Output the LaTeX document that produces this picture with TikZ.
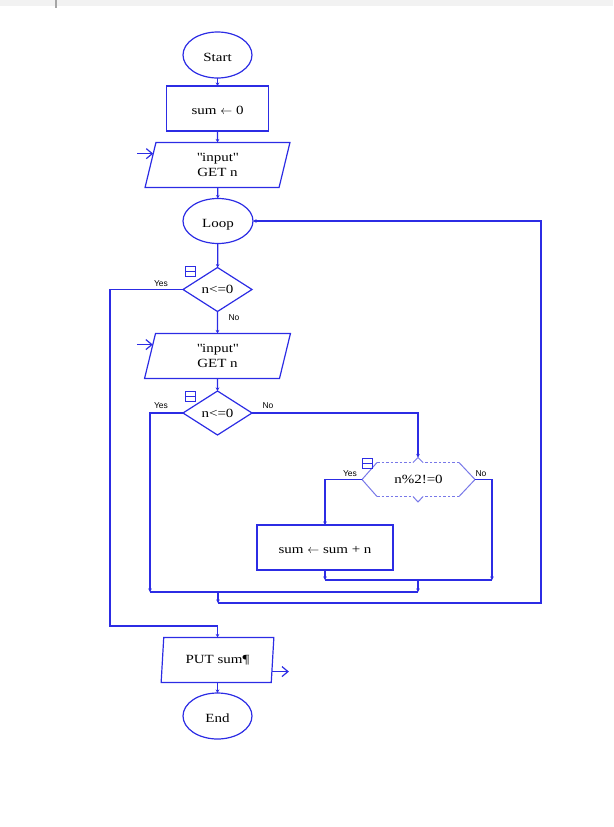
\documentclass[tikz,border=0pt]{standalone}
\usepackage{fontspec}
\setmainfont[FakeStretch=1.2]{Liberation Serif}
\newfontfamily\lblfont{Liberation Sans}
\definecolor{flowblue}{RGB}{44, 44, 228}
\definecolor{softblue}{RGB}{120, 120, 232}
\usepackage{tikz}
\usetikzlibrary{shapes.geometric, arrows.meta, positioning, calc}

\begin{document}
\begin{tikzpicture}[x=1pt, y=-1pt,
  line width=1.2pt,
  txt/.style={font=\fontsize{12.5}{14.5}\selectfont, text=black, inner sep=0pt, outer sep=0pt},
  term/.style={txt, draw=flowblue, ellipse, minimum width=69, minimum height=46, text height=12pt, text depth=0pt},
  procbox/.style={txt, draw=flowblue, rectangle, minimum width=102, minimum height=45, text height=12pt, text depth=0pt},
  iobox/.style={txt, draw=flowblue, trapezium, trapezium left angle=81, trapezium right angle=99,
    trapezium stretches=true, align=center, minimum height=45},
  decision/.style={txt, draw=flowblue, diamond, minimum width=69, minimum height=44},
  lbl/.style={font=\lblfont\fontsize{8.5}{9}\selectfont, text=black, inner sep=0pt},
  foldicon/.style={draw=flowblue, line width=1pt, minimum size=10, inner sep=0pt,
    path picture={\draw[flowblue, line width=1pt] (path picture bounding box.west) -- (path picture bounding box.east);}},
  flow/.style={draw=flowblue, -{Stealth[length=3.5pt, width=3.5pt]}},
  wire/.style={draw=flowblue},
  ioarrow/.style={draw=flowblue, -{Straight Barb[length=6pt, width=10pt]}}]

  \useasboundingbox (0,0) rectangle (613,827);
  \fill[gray!10] (0,0) rectangle (613,6);
  \draw[gray!70, line width=1.5pt] (56,0) -- (56,8);

  % main column
  \node[term] (start) at (217.5, 55) {Start};
  \node[procbox] (init) at (217.5, 108.5) {sum $\leftarrow$ 0};
  \node[iobox, minimum width=145] (in1) at (217.5, 165) {\textquotedbl input\textquotedbl\\GET n};
  \node[term, minimum width=70, minimum height=45] (loop) at (218, 221) {Loop};
  \node[decision] (cond1) at (217.5, 289.5) {n<=0};
  \node[iobox, minimum width=146] (in2) at (217.5, 356) {\textquotedbl input\textquotedbl\\GET n};
  \node[decision] (cond2) at (217.5, 413) {n<=0};
  \node[procbox, minimum width=136] (add) at (325, 547.5) {sum $\leftarrow$ sum + n};
  \node[iobox, minimum width=113] (put) at (217.5, 660) {PUT sum¶};
  \node[term] (stop) at (217.5, 716) {End};

  % dashed merge shape
  \node[txt, minimum width=113, minimum height=34] (odd) at (418.5, 479.5) {n\%2!=0};
  \draw[softblue, line width=1pt, dashed, dash pattern=on 2.5pt off 2pt]
    ($(odd.north west)+(15,0)$) -- (413,462.5) ($(odd.north east)+(-16,0)$) -- (423,462.5)
    ($(odd.south west)+(15,0)$) -- (413,496.5) ($(odd.south east)+(-16,0)$) -- (423,496.5);
  \draw[softblue, line width=1pt] ($(odd.north west)+(15,0)$) -- (odd.west) -- ($(odd.south west)+(15,0)$)
    ($(odd.north east)+(-16,0)$) -- (odd.east) -- ($(odd.south east)+(-16,0)$)
    (413,462.5) -- (418,457.5) -- (423,462.5)
    (413,496.5) -- (418,502) -- (423,496.5);
  \coordinate (odd-in) at (418, 457.5);

  \node[foldicon] (fold1) at (190, 271) {};
  \node[foldicon] (fold2) at (190, 396) {};
  \node[foldicon] (fold3) at (367, 463) {};

  \node[lbl] (yes1) at (161, 284) {Yes};
  \node[lbl] (no1) at (234, 317.5) {No};
  \node[lbl] (yes2) at (161, 406) {Yes};
  \node[lbl] (no2) at (268, 406) {No};
  \node[lbl] (yes3) at (350, 473.5) {Yes};
  \node[lbl] (no3) at (481, 473.5) {No};

  % junctions
  \coordinate (joinR) at (492, 580);
  \coordinate (joinA) at (418, 580);
  \coordinate (joinL) at (150, 592);
  \coordinate (joinB) at (418, 592);
  \coordinate (joinC) at (218, 603);
  \coordinate (back) at (541, 603);
  \coordinate (exitL) at (110, 626);

  \draw[flow] (start) -- (init);
  \draw[flow] (init) -- (in1);
  \draw[flow] (in1) -- (loop);
  \draw[flow] (loop) -- (cond1);
  \draw[flow] (cond1) -- (in2);
  \draw[flow] (in2) -- (cond2);
  \draw[flow] (cond2.east) -| (odd-in);
  \draw[flow] (odd.west) -| (add.north);
  \draw[flow] (add.south) -- (add.south |- joinA);
  \draw[flow] (odd.east) -| (joinR);
  \draw[wire] (add.south |- joinA) -- (joinR);
  \draw[flow] (joinA) -- (joinB);
  \draw[flow] (cond2.west) -| (joinL);
  \draw[wire] (joinL) -- (joinB);
  \draw[flow] (joinC |- joinB) -- (joinC);
  \draw[flow] (joinC) -- (back) |- (loop.east);
  \draw[flow] (cond1.west) -| (exitL) -| (put.north);
  \draw[flow] (put) -- (stop);

  \draw[ioarrow] ($(in1.170)+(-16,0)$) -- (in1.170);
  \draw[ioarrow] ($(in2.170)+(-16,0)$) -- (in2.170);
  \draw[ioarrow] (put.-12) -- ++(17,0);
\end{tikzpicture}
\end{document}
